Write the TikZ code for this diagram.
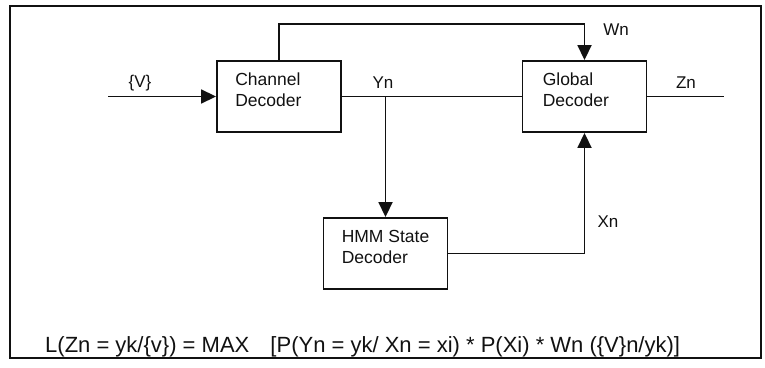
\documentclass[tikz,border=0pt]{standalone}
\usepackage{fontspec}
\setmainfont{Liberation Sans}
\usetikzlibrary{arrows.meta}
\usetikzlibrary{calc}
\definecolor{ink}{HTML}{111111}

\begin{document}
\begin{tikzpicture}[x=1pt, y=-1pt,
  blk/.style  = {draw=ink, line width=1.9pt, minimum width=124pt, minimum height=71pt, inner sep=0pt},
  wire/.style = {draw=ink, line width=1.8pt},
  tip/.style  = {-{Triangle[length=15pt, width=14pt]}},
  txt/.style  = {font=\fontsize{17.5}{21.5}\selectfont, align=left, inner sep=0pt, text=ink},
  lbl/.style  = {font=\fontsize{17}{20}\selectfont, inner sep=0pt, text=ink}]
  \useasboundingbox (0,0) rectangle (765,367);
  \draw[draw=ink, line width=2.6pt] (10,6) rectangle (761,358);

  % blocks
  \node[blk] (chan) at (279,96.5)   {};
  \node[blk] (glob) at (584.5,96.5) {};
  \node[blk] (hmm)  at (385.5,253.5) {};
  \node[txt, anchor = north west] (chan-t) at ($(chan.north west)+(19,12.5)$) {Channel\\Decoder};
  \node[txt, anchor = north west] (glob-t) at ($(glob.north west)+(21,12.5)$) {Global\\Decoder};
  \node[txt, anchor = north west] (hmm-t)  at ($(hmm.north west)+(19,13)$) {HMM State\\Decoder};

  % free ends
  \coordinate (vin)  at (108,96.5);
  \coordinate (zout) at (724,96.5);
  \coordinate (ybr)  at (hmm.north |- chan.east);

  % connectors
  \draw[wire, tip] (vin) -- (chan.west);
  \draw[wire] (chan.east) -- (glob.west);
  \draw[wire, tip] (ybr) -- (hmm.north);
  \draw[wire, tip] (chan.north) -- ++(0,-36) -| (glob.north);
  \draw[wire, tip] (hmm.east) -| (glob.south);
  \draw[wire] (glob.east) -- (zout);

  % signal names
  \node[lbl, anchor = center] (v-l) at (140,83)  {\{V\}};
  \node[lbl, anchor = center] (y-l) at (383,83)  {Yn};
  \node[lbl, anchor = center] (w-l) at (616,30)  {Wn};
  \node[lbl, anchor = center] (z-l) at (686,83)  {Zn};
  \node[lbl, anchor = center] (x-l) at (608,222) {Xn};

  % likelihood
  \node[anchor = base west, inner sep=0pt, text=ink, font=\fontsize{22}{26}\selectfont] (lik) at (45,352)
    {L(Zn = yk/\{v\}) = MAX\hspace{15pt} [P(Yn = yk/ Xn = xi) * P(Xi) * Wn (\{V\}n/yk)]};
\end{tikzpicture}
\end{document}
